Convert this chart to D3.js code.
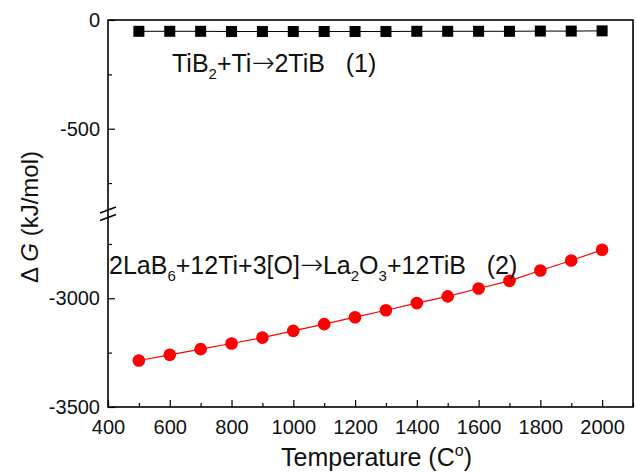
<!DOCTYPE html>
<html>
<head>
<meta charset="utf-8">
<script src="https://cdn.jsdelivr.net/npm/d3@7"></script>
<style>
body{margin:0;background:#fff;}
svg{font-family:"Liberation Sans",Arial,sans-serif;}
</style>
</head>
<body>
<div id="chart"></div>
<script>
// data
var temps = [500,600,700,800,900,1000,1100,1200,1300,1400,1500,1600,1700,1800,1900,2000];
var dG1 = [-52,-52,-52,-53,-53,-53,-53,-53,-53,-52,-52,-52,-52,-51,-51,-50];
var dG2 = [-3286,-3260,-3234,-3208,-3181,-3150,-3119,-3087,-3055,-3022,-2991,-2955,-2920,-2872,-2826,-2777];
var xTicks = [400,600,800,1000,1200,1400,1600,1800,2000];
var xMinor = [500,700,900,1100,1300,1500,1700,1900,2100];
var yTopTicks = [0,-500], yTopMinor = [-250,-750];
var yBotTicks = [-3000,-3500], yBotMinor = [-2750,-3250];

var W = 637, H = 474;
var mL = 108, mR = 633, mT = 20, mB = 407, brk = 213.5;

var svg = d3.select('#chart').append('svg')
    .attr('width',W).attr('height',H);

var x = d3.scaleLinear().domain([400,2100]).range([mL,mR]);
var yTop = d3.scaleLinear().domain([0,-890]).range([mT,brk]);
var yBot = d3.scaleLinear().domain([-2610,-3500]).range([brk,mB]);
function y(v){ return v > -1500 ? yTop(v) : yBot(v); }

// frame
svg.append('rect')
    .attr('x',mL).attr('y',mT)
    .attr('width',mR-mL).attr('height',mB-mT)
    .attr('fill','none').attr('stroke','#000').attr('stroke-width',1.6);

// x axis
var gx = svg.append('g').attr('transform','translate(0,'+mB+')');
gx.call(d3.axisBottom(x).tickValues(xTicks).tickSize(-7).tickPadding(13).tickFormat(function(d){return d;}));
gx.append('g').call(d3.axisBottom(x).tickValues(xMinor).tickSize(-4).tickFormat(''));
gx.selectAll('.domain').remove();
gx.selectAll('line').attr('stroke','#000').attr('stroke-width',1.2);
gx.selectAll('text').attr('font-size',20).attr('fill','#111').attr('font-family','Liberation Sans, Arial, sans-serif');

// y axis, two segments
function yAxis(scale, major, minor){
    var g = svg.append('g').attr('transform','translate('+mL+',0)');
    g.call(d3.axisLeft(scale).tickValues(major).tickSize(-7).tickPadding(8).tickFormat(function(d){return d;}));
    g.append('g').call(d3.axisLeft(scale).tickValues(minor).tickSize(-4).tickFormat(''));
    g.selectAll('.domain').remove();
    g.selectAll('line').attr('stroke','#000').attr('stroke-width',1.2);
    g.selectAll('text').attr('font-size',20).attr('fill','#111').attr('font-family','Liberation Sans, Arial, sans-serif');
    return g;
}
yAxis(yTop, yTopTicks, yTopMinor);
yAxis(yBot, yBotTicks, yBotMinor);

// break marks
[-3.5,4].forEach(function(o){
    svg.append('line')
        .attr('x1',mL-8).attr('y1',brk+o+3)
        .attr('x2',mL+8).attr('y2',brk+o-3)
        .attr('stroke','#000').attr('stroke-width',1.6);
});

// series
var line = d3.line().x(function(d){return x(d[0]);}).y(function(d){return y(d[1]);});
var s1 = temps.map(function(t,i){return [t,dG1[i]];});
var s2 = temps.map(function(t,i){return [t,dG2[i]];});

svg.append('path').datum(s1).attr('d',line)
    .attr('fill','none').attr('stroke','#000').attr('stroke-width',1);
svg.selectAll('.sq').data(s1).enter().append('rect')
    .attr('x',function(d){return x(d[0])-5.5;})
    .attr('y',function(d){return y(d[1])-5.5;})
    .attr('width',11).attr('height',11).attr('fill','#000');

svg.append('path').datum(s2).attr('d',line)
    .attr('fill','none').attr('stroke','#ff0000').attr('stroke-width',1.2);
svg.selectAll('.ci').data(s2).enter().append('circle')
    .attr('cx',function(d){return x(d[0]);})
    .attr('cy',function(d){return y(d[1]);})
    .attr('r',6.3).attr('fill','#ff0000');

// annotations
function rich(xp, yp, parts, size){
    var t = svg.append('text').attr('x',xp).attr('y',yp).attr('font-size',size).attr('fill','#111')
        .attr('xml:space','preserve');
    var shift = 0;
    parts.forEach(function(p){
        var ts = t.append('tspan').text(p[0]);
        var want = 0;
        if(p[1]==='sub'){ ts.attr('font-size',size*0.6); want = size*0.27; }
        if(p[1]==='arrow'){ ts.attr('font-family','DejaVu Sans').attr('font-size',size*1.1).attr('font-weight',200); }
        ts.attr('dy',want-shift);
        shift = want;
    });
    return t;
}
rich(172, 72, [['TiB'],['2','sub'],['+Ti'],['\u2192','arrow'],['2TiB   (1)']], 25);
rich(109, 274, [['2LaB'],['6','sub'],['+12Ti+3[O]'],['\u2192','arrow'],['La'],['2','sub'],['O'],['3','sub'],['+12TiB   (2)']], 25);

// axis titles
var xt = svg.append('text').attr('x',(mL+mR)/2 + 6).attr('y',466)
    .attr('text-anchor','middle').attr('font-size',25).attr('fill','#111');
xt.append('tspan').text('Temperature (C');
xt.append('tspan').text('o').attr('font-size',16).attr('dy',-10);
xt.append('tspan').text(')').attr('dy',10);

var yt = svg.append('text').attr('transform','translate(38,217) rotate(-90)')
    .attr('text-anchor','middle').attr('font-size',24).attr('fill','#111');
yt.append('tspan').text('\u0394 ');
yt.append('tspan').text('G').attr('font-style','italic');
yt.append('tspan').text(' (kJ/mol)');
</script>
</body>
</html>
